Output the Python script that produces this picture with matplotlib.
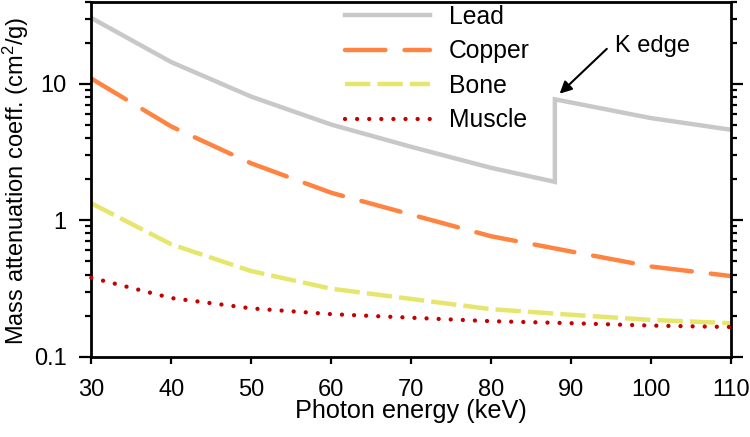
import matplotlib.pyplot as plt
from matplotlib.ticker import NullFormatter


# ============================================================
# DATI
# ============================================================

energy = [30, 40, 50, 60, 70, 80, 90, 100, 110]

lead_energy = [30, 40, 50, 60, 70, 80, 88, 88, 100, 110]
lead = [30.3, 14.4, 8.04, 5.02, 3.45, 2.42, 1.91, 7.68, 5.6, 4.6]

copper = [10.9, 4.86, 2.61, 1.59, 1.10, 0.763, 0.59, 0.458, 0.39]
bone = [1.33, 0.666, 0.424, 0.315, 0.265, 0.223, 0.203, 0.186, 0.176]
muscle = [0.379, 0.269, 0.226, 0.205, 0.193, 0.182, 0.176, 0.169, 0.165]

y_ticks = [0.1, 1, 10]
y_tick_labels = ["0.1", "1", "10"]
x_ticks = [30, 40, 50, 60, 70, 80, 90, 100, 110]


# ============================================================
# STILE
# ============================================================

plt.rcParams["font.family"] = ["Liberation Sans", "DejaVu Sans"]
plt.rcParams["mathtext.fontset"] = "custom"
plt.rcParams["mathtext.rm"] = "Liberation Sans"
plt.rcParams["mathtext.default"] = "regular"

TICK_SIZE = 17.0
LABEL_SIZE = 18.2
YLABEL_SIZE = 17.0
LEGEND_SIZE = 17.8

LEAD_COLOR = "#c8c8c8"
COPPER_COLOR = "#ff8442"
BONE_COLOR = "#e6e66c"
MUSCLE_COLOR = "#c40000"

LINE_WIDTH = 3.2


# ============================================================
# GRAFICO
# ============================================================

fig = plt.figure(figsize=(7.5, 4.37), dpi=100)
ax = fig.add_axes([
    91.3 / 750,
    (437 - 356.7) / 437,
    (730.7 - 91.3) / 750,
    (356.7 - 1.5) / 437,
])

ax.plot(lead_energy, lead, color=LEAD_COLOR, lw=LINE_WIDTH,
        solid_joinstyle="miter", label="Lead")
ax.plot(energy, copper, color=COPPER_COLOR, lw=LINE_WIDTH,
        linestyle=(0, (9.1, 4.3)), dash_capstyle="round", label="Copper")
ax.plot(energy, bone, color=BONE_COLOR, lw=LINE_WIDTH,
        linestyle=(0, (5.7, 1.6)), dash_capstyle="butt", label="Bone")
ax.plot(energy, muscle, color=MUSCLE_COLOR, lw=3.1,
        linestyle=(0, (0.01, 2.8)), dash_capstyle="round", label="Muscle",
        clip_on=False, zorder=3)

ax.set_yscale("log")
ax.set_xlim(30, 110)
ax.set_ylim(0.1, 40)

ax.set_yticks(y_ticks, labels=y_tick_labels)
ax.yaxis.set_minor_formatter(NullFormatter())
ax.set_xticks(x_ticks)

for side in ["left", "right", "top", "bottom"]:
    ax.spines[side].set_linewidth(2.0)

ax.tick_params(axis="y", which="major", length=8.6, width=1.6,
               direction="out", right=True, labelsize=TICK_SIZE, pad=9.3)
ax.tick_params(axis="y", which="minor", length=4.3, width=1.6,
               direction="out", right=True)
ax.tick_params(axis="x", which="major", length=4.8, width=1.6,
               direction="out", labelsize=TICK_SIZE, pad=11)

ax.set_xlabel("Photon energy (keV)", fontsize=LABEL_SIZE, labelpad=-1)
ax.set_ylabel("Mass attenuation coeff. (cm$^2$/g)", fontsize=YLABEL_SIZE)
ax.yaxis.set_label_coords(-0.094, 0.495)

ax.legend(
    loc="upper left",
    bbox_to_anchor=(0.396, 0.99),
    frameon=False,
    fontsize=LEGEND_SIZE,
    handlelength=3.45,
    handletextpad=0.77,
    labelspacing=0.42,
    borderpad=0,
    borderaxespad=0,
)

ax.annotate(
    "",
    xy=(88.6, 8.45),
    xytext=(94.5, 18.0),
    arrowprops=dict(arrowstyle="-|>", color="black", lw=1.5,
                    mutation_scale=18, shrinkA=0, shrinkB=0),
)
ax.text(95.5, 17.0, "K edge", fontsize=TICK_SIZE, ha="left", va="baseline")

fig.savefig("out.png", dpi=100)
plt.close(fig)
